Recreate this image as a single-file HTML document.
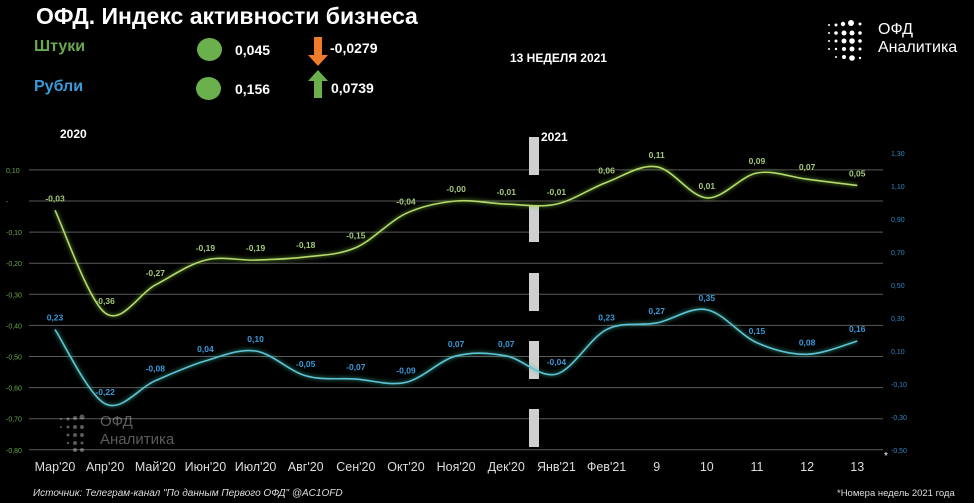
<!DOCTYPE html>
<html><head><meta charset="utf-8">
<style>
html,body{margin:0;padding:0;background:#000;}
body{width:974px;height:503px;overflow:hidden;position:relative;font-family:"Liberation Sans","Noto Sans CJK SC",sans-serif;color:#fff;}
.abs{position:absolute;white-space:nowrap;}
</style></head>
<body>
<div class="abs" style="left:36px;top:3px;font-size:23px;font-weight:bold;">ОФД. Индекс активности бизнеса</div>
<div class="abs" style="left:34px;top:38px;font-size:16px;font-weight:bold;color:#6aa84f;">Штуки</div>
<div class="abs" style="left:34px;top:78px;font-size:16px;font-weight:bold;color:#3a9ad9;">Рубли</div>
<div class="abs" style="left:197px;top:38px;width:25px;height:23px;border-radius:50%;background:#6ab04c;"></div>
<div class="abs" style="left:196px;top:77px;width:25px;height:23px;border-radius:50%;background:#6ab04c;"></div>
<div class="abs" style="left:235px;top:42px;font-size:14px;font-weight:bold;">0,045</div>
<div class="abs" style="left:235px;top:81px;font-size:14px;font-weight:bold;">0,156</div>
<svg class="abs" style="left:307px;top:37px;" width="22" height="30"><polygon points="7,0 15,0 15,18 21,18 11,29 1,18 7,18" fill="#f07b2a"/></svg>
<svg class="abs" style="left:307px;top:70px;" width="22" height="30"><polygon points="11,0 21,11 15,11 15,28 7,28 7,11 1,11" fill="#6ab04c"/></svg>
<div class="abs" style="left:330px;top:40px;font-size:14px;font-weight:bold;">-0,0279</div>
<div class="abs" style="left:331px;top:80px;font-size:14px;font-weight:bold;">0,0739</div>
<div class="abs" style="left:510px;top:51px;font-size:12px;font-weight:bold;">13 НЕДЕЛЯ 2021</div>
<div class="abs" style="left:60px;top:127px;font-size:12px;font-weight:bold;">2020</div>
<div class="abs" style="left:541px;top:130px;font-size:12px;font-weight:bold;">2021</div>
<div class="abs" style="left:826px;top:18px;">
<svg width="44" height="46" style="position:absolute;left:0;top:0;">
<g fill="#fff">
<circle cx="3" cy="7" r="1"/><circle cx="10" cy="7" r="1.5"/><circle cx="17" cy="6" r="2.2"/><circle cx="25" cy="5" r="3"/><circle cx="34" cy="6" r="1.5"/>
<circle cx="3" cy="15" r="1"/><circle cx="10" cy="15" r="1.8"/><circle cx="18" cy="15" r="2.5"/><circle cx="26" cy="15" r="2.5"/><circle cx="34" cy="15" r="1.8"/>
<circle cx="3" cy="23" r="1"/><circle cx="10" cy="23" r="1.5"/><circle cx="18" cy="23" r="2.5"/><circle cx="26" cy="23" r="2.8"/><circle cx="34" cy="23" r="1.8"/>
<circle cx="3" cy="31" r="1"/><circle cx="10" cy="31" r="1.2"/><circle cx="18" cy="31" r="2"/><circle cx="26" cy="31" r="2.5"/><circle cx="34" cy="31" r="1.5"/>
<circle cx="10" cy="39" r="1"/><circle cx="18" cy="39" r="2"/><circle cx="26" cy="40" r="2.8"/><circle cx="34" cy="40" r="1.2"/>
</g></svg>
<div class="abs" style="left:52px;top:3px;font-size:16px;line-height:18px;">ОФД<br>Аналитика</div>
</div>
<svg id="chart" class="abs" style="left:0;top:0;" width="974" height="503"></svg>
<div class="abs" style="left:58px;top:413px;opacity:0.35;">
<div class="abs" style="left:42px;top:0;font-size:15px;line-height:18px;">ОФД<br>Аналитика</div>
<svg width="36" height="40"><g fill="#fff"><circle cx="3" cy="6" r="1"/><circle cx="10" cy="6" r="1.5"/><circle cx="17" cy="5" r="2"/><circle cx="24" cy="4" r="2.5"/><circle cx="3" cy="14" r="1"/><circle cx="10" cy="14" r="1.5"/><circle cx="17" cy="14" r="2"/><circle cx="24" cy="14" r="2"/><circle cx="10" cy="22" r="1.5"/><circle cx="17" cy="22" r="2"/><circle cx="24" cy="22" r="2"/><circle cx="10" cy="30" r="1.2"/><circle cx="17" cy="30" r="2"/><circle cx="24" cy="30" r="1.5"/><circle cx="17" cy="37" r="2"/><circle cx="24" cy="37" r="2"/></g></svg>
</div>
<div class="abs" style="left:33px;top:488px;font-size:10px;font-style:italic;color:#ddd;">Источник: Телеграм-канал "По данным Первого ОФД" @AC1OFD</div>
<div class="abs" style="left:837px;top:488px;font-size:9.5px;color:#ddd;">*Номера недель 2021 года</div>
<div class="abs" style="left:884px;top:451px;font-size:10px;">*</div>
<script>
const categories=["Мар'20","Апр'20","Май'20","Июн'20","Июл'20","Авг'20","Сен'20","Окт'20","Ноя'20","Дек'20","Янв'21","Фев'21","9","10","11","12","13"];
const shtuki=[-0.03,-0.36,-0.27,-0.19,-0.19,-0.18,-0.15,-0.04,-0.00,-0.01,-0.01,0.06,0.11,0.01,0.09,0.07,0.05];
const rubli=[0.23,-0.22,-0.08,0.04,0.10,-0.05,-0.07,-0.09,0.07,0.07,-0.04,0.23,0.27,0.35,0.15,0.08,0.16];
const leftTicks=[0.10,0,-0.10,-0.20,-0.30,-0.40,-0.50,-0.60,-0.70,-0.80];
const rightTicks=[1.30,1.10,0.90,0.70,0.50,0.30,0.10,-0.10,-0.30,-0.50];
const NS="http://www.w3.org/2000/svg";
const svg=document.getElementById('chart');
const xPos=i=>55+i*50.14;
const yL=v=>201-v*311;
const yR=v=>367.5-v*165;
const fmt=v=>(Math.abs(v)<1e-9&&1/v<0?"-0,00":v.toFixed(2).replace('.',','));
function mk(t,a){const e=document.createElementNS(NS,t);for(const k in a)e.setAttribute(k,a[k]);svg.appendChild(e);return e;}
const defs=mk('defs',{});
defs.innerHTML='<filter id="glow" x="-10%" y="-50%" width="120%" height="200%"><feGaussianBlur stdDeviation="2" result="b"/><feMerge><feMergeNode in="b"/><feMergeNode in="SourceGraphic"/></feMerge></filter>';
leftTicks.forEach(v=>{
  const l=mk('line',{x1:29,x2:883,y1:yL(v),y2:yL(v),stroke:'#5a5a5a','stroke-width':1});
  
  
  const t=mk('text',{x:6,y:yL(v)+3,'font-size':7,fill:'#6aa84f','font-family':'Liberation Sans, sans-serif'});
  t.textContent=v===0?'-':fmt(v);
  
  
});
rightTicks.forEach(v=>{
  const t=mk('text',{x:891,y:yR(v)+3,'font-size':7,fill:'#2e86c1','font-family':'Liberation Sans, sans-serif'});
  t.textContent=fmt(v);
  
  
});
categories.forEach((c,i)=>{
  const t=mk('text',{x:xPos(i),y:471,'font-size':12.5,fill:'#ddd','text-anchor':'middle','font-family':'Liberation Sans, sans-serif'});
  t.textContent=c;
  
  
});
[[137,175],[205,242],[273,311],[341,379],[409,447]].forEach(s=>{
  const r=mk('rect',{x:529,y:s[0],width:10,height:s[1]-s[0],fill:'#cfcfcf'});
  
  
});
function spline(pts){
  let d=`M${pts[0][0]},${pts[0][1]}`;
  for(let i=0;i<pts.length-1;i++){
    const p0=pts[Math.max(0,i-1)],p1=pts[i],p2=pts[i+1],p3=pts[Math.min(pts.length-1,i+2)];
    const c1=[p1[0]+(p2[0]-p0[0])/6,p1[1]+(p2[1]-p0[1])/6];
    const c2=[p2[0]-(p3[0]-p1[0])/6,p2[1]-(p3[1]-p1[1])/6];
    d+=` C${c1[0]},${c1[1]} ${c2[0]},${c2[1]} ${p2[0]},${p2[1]}`;
  }
  return d;
}
function series(vals,yf,color,glow,name,lblColor){
  const pts=vals.map((v,i)=>[xPos(i),yf(v)]);
  const p=mk('path',{d:spline(pts),fill:'none',stroke:color,'stroke-width':1.6,filter:'url(#glow)',style:'filter:drop-shadow(0 0 2px '+glow+')'});
  
  
  vals.forEach((v,i)=>{
    const t=mk('text',{x:xPos(i),y:yf(v)-9,'font-size':8.5,'font-weight':'bold',fill:lblColor,'text-anchor':'middle','font-family':'Liberation Sans, sans-serif'});
    t.textContent=fmt(v);
    
    
  });
}
series(shtuki,yL,'#b5d96b','#7fbf3f','shtuki','#a5c97a');
series(rubli,yR,'#5fc3d8','#3fbf9f','rubli','#3a9ad9');
</script>
</body></html>
